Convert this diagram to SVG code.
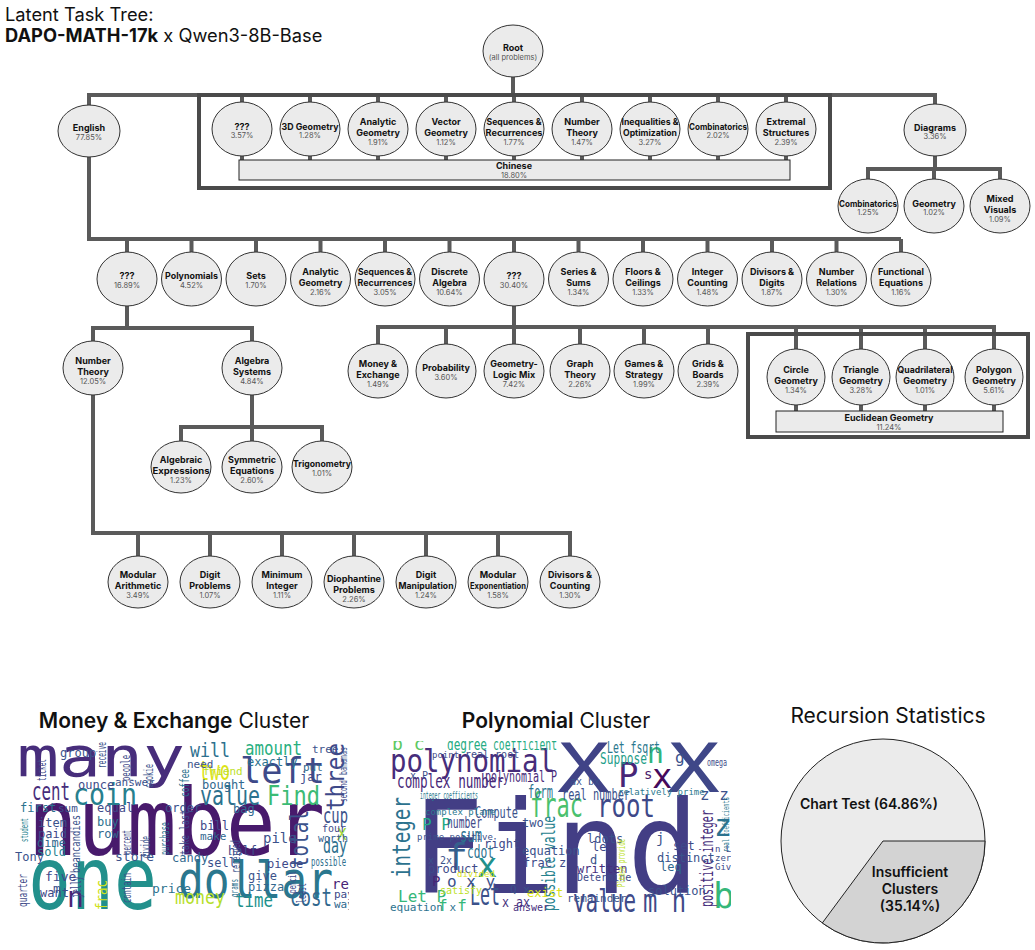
<svg xmlns="http://www.w3.org/2000/svg" width="1035" height="950" viewBox="0 0 1035 950">
<style>
.ttl{font-family:Inter,'Liberation Sans',sans-serif;fill:#111}
.node ellipse{fill:#ebebeb;stroke:#333;stroke-width:1}
.lb{font-family:Inter,'Liberation Sans',sans-serif;font-size:9px;font-weight:700;fill:#111;text-anchor:middle}
.pc{font-family:Inter,'Liberation Sans',sans-serif;font-size:7.5px;fill:#555;text-anchor:middle}
.con path{fill:none;stroke:#5a5a5a;stroke-width:4}
.box{fill:none;stroke:#4a4a4a;stroke-width:4}
.bar{fill:#ebebeb;stroke:#222;stroke-width:1}
.wc text{font-family:'DejaVu Sans Mono',monospace}
</style>
<defs>
<clipPath id="c1"><rect x="13" y="741" width="336" height="173"/></clipPath>
<clipPath id="c2"><rect x="385" y="741" width="346" height="173"/></clipPath>
</defs>
<rect width="1035" height="950" fill="#fff"/>

<g id="title" class="ttl">
<text x="5" y="21" font-size="18.3">Latent Task Tree:</text>
<text x="5" y="42" font-size="18.3"><tspan font-weight="700">DAPO-MATH-17k</tspan> x Qwen3-8B-Base</text>
</g>

<g id="connectors" class="con">
<path d="M513 77V95"/>
<path d="M89 130V95H935V130"/>
<path d="M242 95V102M310 95V102M378 95V102M446 95V102M514 95V102M582 95V102M650 95V102M718 95V102M786 95V102"/>
<path d="M242 156V160M310 156V160M378 156V160M446 156V160M514 156V160M582 156V160M650 156V160M718 156V160M786 156V160"/>
<path d="M935 156V169M868 179V169H1000V179M934 169V179"/>
<path d="M89 157V239H901"/>
<path d="M127 239V252M191.5 239V252M256 239V252M320.5 239V252M385 239V252M449.5 239V252M514 239V252M578.5 239V252M643 239V252M707.5 239V252M772 239V252M836.5 239V252M901 239V252"/>
<path d="M127 306V328M93 341V328H252V341"/>
<path d="M252 395V427M181 441V427H322V441M252 427V441"/>
<path d="M93 395V533H570V556M138 533V556M210 533V556M282 533V556M354 533V556M426 533V556M498 533V556"/>
<path d="M514 306V344M378 344V327H994V349M446 327V344M580 327V344M644 327V344M708 327V344M796 327V349M861 327V349M925 327V349"/>
<path d="M796 405V411M861 405V411M925 405V411M994 405V411"/>
</g>

<g id="chinese-box">
<rect class="box" x="199" y="95" width="631" height="93"/>
<rect class="bar" x="239" y="160" width="551" height="20"/>
<text class="lb" x="514" y="169">Chinese</text>
<text class="pc" x="514" y="177.5">18.80%</text>
</g>
<g id="euclidean-box">
<rect class="box" x="748" y="334" width="280" height="103"/>
<rect class="bar" x="776" y="411" width="227" height="21"/>
<text class="lb" x="889" y="421">Euclidean Geometry</text>
<text class="pc" x="889" y="430">11.24%</text>
</g>

<g id="n-root" class="node"><ellipse cx="513" cy="51" rx="30" ry="26"/><text class="lb" x="513" y="51" font-size="10">Root</text><text class="pc" x="513" y="59.5">(all problems)</text></g>

<g id="n-english" class="node"><ellipse cx="89" cy="131" rx="31" ry="26"/><text class="lb" x="89" y="131">English</text><text class="pc" x="89" y="139.5">77.85%</text></g>
<g id="n-zh-unk" class="node"><ellipse cx="242" cy="129" rx="30" ry="27"/><text class="lb" x="242" y="129.5">???</text><text class="pc" x="242" y="138">3.57%</text></g>
<g id="n-zh-3d" class="node"><ellipse cx="310" cy="129" rx="30" ry="27"/><text class="lb" x="310" y="129.5" textLength="57" lengthAdjust="spacingAndGlyphs">3D Geometry</text><text class="pc" x="310" y="138">1.28%</text></g>
<g id="n-zh-analytic" class="node"><ellipse cx="378" cy="129" rx="30" ry="27"/><text class="lb" x="378" y="125">Analytic</text><text class="lb" x="378" y="136">Geometry</text><text class="pc" x="378" y="144.5">1.91%</text></g>
<g id="n-zh-vector" class="node"><ellipse cx="446" cy="129" rx="30" ry="27"/><text class="lb" x="446" y="125">Vector</text><text class="lb" x="446" y="136">Geometry</text><text class="pc" x="446" y="144.5">1.12%</text></g>
<g id="n-zh-seq" class="node"><ellipse cx="514" cy="129" rx="30" ry="27"/><text class="lb" x="514" y="125" textLength="55" lengthAdjust="spacingAndGlyphs">Sequences &amp;</text><text class="lb" x="514" y="136" textLength="57" lengthAdjust="spacingAndGlyphs">Recurrences</text><text class="pc" x="514" y="144.5">1.77%</text></g>
<g id="n-zh-nt" class="node"><ellipse cx="582" cy="129" rx="30" ry="27"/><text class="lb" x="582" y="125">Number</text><text class="lb" x="582" y="136">Theory</text><text class="pc" x="582" y="144.5">1.47%</text></g>
<g id="n-zh-ineq" class="node"><ellipse cx="650" cy="129" rx="30" ry="27"/><text class="lb" x="650" y="125" textLength="57" lengthAdjust="spacingAndGlyphs">Inequalities &amp;</text><text class="lb" x="650" y="136" textLength="54" lengthAdjust="spacingAndGlyphs">Optimization</text><text class="pc" x="650" y="144.5">3.27%</text></g>
<g id="n-zh-comb" class="node"><ellipse cx="718" cy="129" rx="30" ry="27"/><text class="lb" x="718" y="129.5" textLength="58" lengthAdjust="spacingAndGlyphs">Combinatorics</text><text class="pc" x="718" y="138">2.02%</text></g>
<g id="n-zh-ext" class="node"><ellipse cx="786" cy="129" rx="30" ry="27"/><text class="lb" x="786" y="125">Extremal</text><text class="lb" x="786" y="136">Structures</text><text class="pc" x="786" y="144.5">2.39%</text></g>

<g id="n-diagrams" class="node"><ellipse cx="935" cy="130" rx="31" ry="26"/><text class="lb" x="935" y="130.5">Diagrams</text><text class="pc" x="935" y="139">3.36%</text></g>
<g id="n-dg-comb" class="node"><ellipse cx="868" cy="206" rx="30" ry="27"/><text class="lb" x="868" y="206.5" textLength="58" lengthAdjust="spacingAndGlyphs">Combinatorics</text><text class="pc" x="868" y="215">1.25%</text></g>
<g id="n-dg-geo" class="node"><ellipse cx="934" cy="206" rx="30" ry="27"/><text class="lb" x="934" y="206.5">Geometry</text><text class="pc" x="934" y="215">1.02%</text></g>
<g id="n-dg-mixed" class="node"><ellipse cx="1000" cy="206" rx="30" ry="27"/><text class="lb" x="1000" y="202">Mixed</text><text class="lb" x="1000" y="213">Visuals</text><text class="pc" x="1000" y="221.5">1.09%</text></g>

<g id="n-en-unk1" class="node"><ellipse cx="127" cy="279" rx="30" ry="27"/><text class="lb" x="127" y="279">???</text><text class="pc" x="127" y="287.5">16.89%</text></g>
<g id="n-en-poly" class="node"><ellipse cx="191.5" cy="279" rx="30" ry="27"/><text class="lb" x="191.5" y="279" textLength="53" lengthAdjust="spacingAndGlyphs">Polynomials</text><text class="pc" x="191.5" y="287.5">4.52%</text></g>
<g id="n-en-sets" class="node"><ellipse cx="256" cy="279" rx="30" ry="27"/><text class="lb" x="256" y="279">Sets</text><text class="pc" x="256" y="287.5">1.70%</text></g>
<g id="n-en-analytic" class="node"><ellipse cx="320.5" cy="279" rx="30" ry="27"/><text class="lb" x="320.5" y="275">Analytic</text><text class="lb" x="320.5" y="286">Geometry</text><text class="pc" x="320.5" y="294.5">2.16%</text></g>
<g id="n-en-seq" class="node"><ellipse cx="385" cy="279" rx="30" ry="27"/><text class="lb" x="385" y="275" textLength="54" lengthAdjust="spacingAndGlyphs">Sequences &amp;</text><text class="lb" x="385" y="286" textLength="55" lengthAdjust="spacingAndGlyphs">Recurrences</text><text class="pc" x="385" y="294.5">3.05%</text></g>
<g id="n-en-discrete" class="node"><ellipse cx="449.5" cy="279" rx="30" ry="27"/><text class="lb" x="449.5" y="275">Discrete</text><text class="lb" x="449.5" y="286">Algebra</text><text class="pc" x="449.5" y="294.5">10.64%</text></g>
<g id="n-en-unk2" class="node"><ellipse cx="514" cy="279" rx="30" ry="27"/><text class="lb" x="514" y="279">???</text><text class="pc" x="514" y="287.5">30.40%</text></g>
<g id="n-en-series" class="node"><ellipse cx="578.5" cy="279" rx="30" ry="27"/><text class="lb" x="578.5" y="275">Series &amp;</text><text class="lb" x="578.5" y="286">Sums</text><text class="pc" x="578.5" y="294.5">1.34%</text></g>
<g id="n-en-floors" class="node"><ellipse cx="643" cy="279" rx="30" ry="27"/><text class="lb" x="643" y="275">Floors &amp;</text><text class="lb" x="643" y="286">Ceilings</text><text class="pc" x="643" y="294.5">1.33%</text></g>
<g id="n-en-intcount" class="node"><ellipse cx="707.5" cy="279" rx="30" ry="27"/><text class="lb" x="707.5" y="275">Integer</text><text class="lb" x="707.5" y="286">Counting</text><text class="pc" x="707.5" y="294.5">1.48%</text></g>
<g id="n-en-divdig" class="node"><ellipse cx="772" cy="279" rx="30" ry="27"/><text class="lb" x="772" y="275">Divisors &amp;</text><text class="lb" x="772" y="286">Digits</text><text class="pc" x="772" y="294.5">1.87%</text></g>
<g id="n-en-numrel" class="node"><ellipse cx="836.5" cy="279" rx="30" ry="27"/><text class="lb" x="836.5" y="275">Number</text><text class="lb" x="836.5" y="286">Relations</text><text class="pc" x="836.5" y="294.5">1.30%</text></g>
<g id="n-en-func" class="node"><ellipse cx="901" cy="279" rx="30" ry="27"/><text class="lb" x="901" y="275">Functional</text><text class="lb" x="901" y="286">Equations</text><text class="pc" x="901" y="294.5">1.16%</text></g>

<g id="n-nt" class="node"><ellipse cx="93" cy="368" rx="30" ry="27"/><text class="lb" x="93" y="364">Number</text><text class="lb" x="93" y="375">Theory</text><text class="pc" x="93" y="383.5">12.05%</text></g>
<g id="n-algsys" class="node"><ellipse cx="252" cy="368" rx="30" ry="27"/><text class="lb" x="252" y="364">Algebra</text><text class="lb" x="252" y="375">Systems</text><text class="pc" x="252" y="383.5">4.84%</text></g>

<g id="n-money" class="node"><ellipse cx="378" cy="371" rx="30" ry="27"/><text class="lb" x="378" y="367">Money &amp;</text><text class="lb" x="378" y="378">Exchange</text><text class="pc" x="378" y="386.5">1.49%</text></g>
<g id="n-prob" class="node"><ellipse cx="446" cy="371" rx="30" ry="27"/><text class="lb" x="446" y="371">Probability</text><text class="pc" x="446" y="379.5">3.60%</text></g>
<g id="n-geologic" class="node"><ellipse cx="514" cy="371" rx="30" ry="27"/><text class="lb" x="514" y="367">Geometry-</text><text class="lb" x="514" y="378">Logic Mix</text><text class="pc" x="514" y="386.5">7.42%</text></g>
<g id="n-graph" class="node"><ellipse cx="580" cy="371" rx="30" ry="27"/><text class="lb" x="580" y="367" font-weight="500" fill="#444">Graph</text><text class="lb" x="580" y="378" font-weight="500" fill="#444">Theory</text><text class="pc" x="580" y="386.5">2.26%</text></g>
<g id="n-games" class="node"><ellipse cx="644" cy="371" rx="30" ry="27"/><text class="lb" x="644" y="367">Games &amp;</text><text class="lb" x="644" y="378">Strategy</text><text class="pc" x="644" y="386.5">1.99%</text></g>
<g id="n-grids" class="node"><ellipse cx="708" cy="371" rx="30" ry="27"/><text class="lb" x="708" y="367">Grids &amp;</text><text class="lb" x="708" y="378">Boards</text><text class="pc" x="708" y="386.5">2.39%</text></g>

<g id="n-circle" class="node"><ellipse cx="796" cy="377" rx="29" ry="28"/><text class="lb" x="796" y="373">Circle</text><text class="lb" x="796" y="384">Geometry</text><text class="pc" x="796" y="392.5">1.34%</text></g>
<g id="n-triangle" class="node"><ellipse cx="861" cy="377" rx="29" ry="28"/><text class="lb" x="861" y="373">Triangle</text><text class="lb" x="861" y="384">Geometry</text><text class="pc" x="861" y="392.5">3.28%</text></g>
<g id="n-quad" class="node"><ellipse cx="925" cy="377" rx="29" ry="28"/><text class="lb" x="925" y="373" textLength="55" lengthAdjust="spacingAndGlyphs">Quadrilateral</text><text class="lb" x="925" y="384">Geometry</text><text class="pc" x="925" y="392.5">1.01%</text></g>
<g id="n-polygon" class="node"><ellipse cx="994" cy="377" rx="29" ry="28"/><text class="lb" x="994" y="373">Polygon</text><text class="lb" x="994" y="384">Geometry</text><text class="pc" x="994" y="392.5">5.61%</text></g>

<g id="n-algexp" class="node"><ellipse cx="181" cy="467" rx="30" ry="26"/><text class="lb" x="181" y="463">Algebraic</text><text class="lb" x="181" y="474" textLength="57" lengthAdjust="spacingAndGlyphs">Expressions</text><text class="pc" x="181" y="482.5">1.23%</text></g>
<g id="n-symeq" class="node"><ellipse cx="252" cy="467" rx="30" ry="26"/><text class="lb" x="252" y="463">Symmetric</text><text class="lb" x="252" y="474">Equations</text><text class="pc" x="252" y="482.5">2.60%</text></g>
<g id="n-trig" class="node"><ellipse cx="322" cy="467" rx="30" ry="26"/><text class="lb" x="322" y="467" textLength="58" lengthAdjust="spacingAndGlyphs">Trigonometry</text><text class="pc" x="322" y="475.5">1.01%</text></g>

<g id="n-modar" class="node"><ellipse cx="138" cy="582" rx="30" ry="26"/><text class="lb" x="138" y="578">Modular</text><text class="lb" x="138" y="589">Arithmetic</text><text class="pc" x="138" y="597.5">3.49%</text></g>
<g id="n-digprob" class="node"><ellipse cx="210" cy="582" rx="30" ry="26"/><text class="lb" x="210" y="578">Digit</text><text class="lb" x="210" y="589">Problems</text><text class="pc" x="210" y="597.5">1.07%</text></g>
<g id="n-minint" class="node"><ellipse cx="282" cy="582" rx="30" ry="26"/><text class="lb" x="282" y="578">Minimum</text><text class="lb" x="282" y="589">Integer</text><text class="pc" x="282" y="597.5">1.11%</text></g>
<g id="n-dioph" class="node"><ellipse cx="354" cy="582" rx="30" ry="26"/><text class="lb" x="354" y="582" textLength="54" lengthAdjust="spacingAndGlyphs">Diophantine</text><text class="lb" x="354" y="593">Problems</text><text class="pc" x="354" y="601.5">2.26%</text></g>
<g id="n-digman" class="node"><ellipse cx="426" cy="582" rx="30" ry="26"/><text class="lb" x="426" y="578">Digit</text><text class="lb" x="426" y="589" textLength="55" lengthAdjust="spacingAndGlyphs">Manipulation</text><text class="pc" x="426" y="597.5">1.24%</text></g>
<g id="n-modexp" class="node"><ellipse cx="498" cy="582" rx="30" ry="26"/><text class="lb" x="498" y="578" font-size="7.5" font-weight="600">Modular</text><text class="lb" x="498" y="589" font-size="7.5" font-weight="600" textLength="56" lengthAdjust="spacingAndGlyphs">Exponentiation</text><text class="pc" x="498" y="597.5">1.58%</text></g>
<g id="n-divcount" class="node"><ellipse cx="570" cy="582" rx="30" ry="26"/><text class="lb" x="570" y="578">Divisors &amp;</text><text class="lb" x="570" y="589">Counting</text><text class="pc" x="570" y="597.5">1.30%</text></g>

<g id="wordcloud-money">
<text class="ttl" x="174" y="728" font-size="21" text-anchor="middle"><tspan font-weight="600">Money &amp; Exchange</tspan> Cluster</text>
<g class="wc" clip-path="url(#c1)">
<text x="17" y="776" font-size="55" textLength="168" lengthAdjust="spacingAndGlyphs" fill="#472d7b">many</text>
<text x="28" y="855" font-size="92" textLength="297" lengthAdjust="spacingAndGlyphs" fill="#481a6c">number</text>
<text x="28" y="909" font-size="88" textLength="129" lengthAdjust="spacingAndGlyphs" fill="#22908c">one</text>
<text x="178" y="898" font-size="52" textLength="155" lengthAdjust="spacingAndGlyphs" fill="#2a778e">dollar</text>
<text x="240" y="783" font-size="36" textLength="85" lengthAdjust="spacingAndGlyphs" fill="#3e4a89">left</text>
<text x="73" y="805" font-size="30" textLength="64" lengthAdjust="spacingAndGlyphs" fill="#27808e">coin</text>
<text x="200" y="805" font-size="26" textLength="60" lengthAdjust="spacingAndGlyphs" fill="#2c728e">value</text>
<text x="267" y="805" font-size="26" textLength="53" lengthAdjust="spacingAndGlyphs" fill="#3bbb75">Find</text>
<text x="199" y="780" font-size="26" textLength="31" lengthAdjust="spacingAndGlyphs" fill="#dde318">two</text>
<text x="190" y="757" font-size="20" textLength="40" lengthAdjust="spacingAndGlyphs" fill="#2d708e">will</text>
<text x="245" y="755" font-size="20" textLength="57" lengthAdjust="spacingAndGlyphs" fill="#29af7f">amount</text>
<text transform="translate(344,811) rotate(-90)" font-size="24" textLength="68" lengthAdjust="spacingAndGlyphs" fill="#3e4989">three</text>
<text x="32" y="800" font-size="24" textLength="38" lengthAdjust="spacingAndGlyphs" fill="#472d7b">cent</text>
<text transform="translate(308,868) rotate(-90)" font-size="24" textLength="58" lengthAdjust="spacingAndGlyphs" fill="#3b528b">total</text>
<text x="323" y="853" font-size="22" textLength="24" lengthAdjust="spacingAndGlyphs" fill="#2d708e">day</text>
<text x="323" y="823" font-size="22" textLength="25" lengthAdjust="spacingAndGlyphs" fill="#3b528b">cup</text>
<text x="290" y="906" font-size="24" textLength="42" lengthAdjust="spacingAndGlyphs" fill="#31688e">cost</text>
<text x="235" y="907" font-size="20" textLength="38" lengthAdjust="spacingAndGlyphs" fill="#21918c">time</text>
<text x="175" y="904" font-size="20" textLength="50" lengthAdjust="spacingAndGlyphs" fill="#b5de2b">money</text>
<text transform="translate(107,910) rotate(-90)" font-size="16" textLength="30" lengthAdjust="spacingAndGlyphs" fill="#d0e11c">frac</text>
<text x="67" y="907" font-size="28" fill="#482475">n</text>
<text x="337" y="840" font-size="16" fill="#a0da39">X</text>
<text x="60" y="757" font-size="12" fill="#3b528b">group</text>
<text x="247" y="766" font-size="12" fill="#2c728e">exactly</text>
<text x="187" y="768" font-size="11" fill="#3b528b">need</text>
<text x="203" y="775" font-size="11" fill="#bddf26">friend</text>
<text x="202" y="789" font-size="12" fill="#31688e">bought</text>
<text x="115" y="786" font-size="11" fill="#3b528b">answer</text>
<text x="78" y="789" font-size="12" fill="#3e4a89">ounce</text>
<text x="233" y="813" font-size="12" fill="#31688e">bag</text>
<text x="300" y="781" font-size="12" fill="#3e4a89">jar</text>
<text x="303" y="771" font-size="11" fill="#31688e">put</text>
<text x="312" y="753" font-size="11" fill="#3b528b">tree</text>
<text x="20" y="812" font-size="12" fill="#2c728e">first</text>
<text x="58" y="812" font-size="11" fill="#3b528b">sum</text>
<text x="97" y="812" font-size="12" fill="#3e4a89">equal</text>
<text x="165" y="812" font-size="12" fill="#3b528b">order</text>
<text x="38" y="827" font-size="12" fill="#3b528b">item</text>
<text x="97" y="826" font-size="12" fill="#2c728e">buy</text>
<text x="97" y="838" font-size="12" fill="#31688e">row</text>
<text x="38" y="838" font-size="12" fill="#3e4a89">paid</text>
<text x="37" y="847" font-size="12" fill="#31688e">dime</text>
<text x="37" y="856" font-size="12" fill="#26828e">sold</text>
<text x="200" y="830" font-size="12" fill="#3e4a89">bill</text>
<text x="200" y="840" font-size="11" fill="#31688e">make</text>
<text x="263" y="843" font-size="14" fill="#3b528b">pile</text>
<text x="322" y="832" font-size="10" fill="#3e4a89">four</text>
<text x="318" y="842" font-size="10" fill="#35608d">worth</text>
<text x="228" y="855" font-size="12" fill="#3e4a89">half</text>
<text x="115" y="861" font-size="13" fill="#3b528b">store</text>
<text x="172" y="862" font-size="12" fill="#31688e">candy</text>
<text x="207" y="867" font-size="12" fill="#3b528b">sell</text>
<text x="267" y="868" font-size="12" fill="#3e4a89">piece</text>
<text x="311" y="866" font-size="12" textLength="35" lengthAdjust="spacingAndGlyphs" fill="#2e6f8e">possible</text>
<text x="15" y="861" font-size="12" fill="#3b528b">Tony</text>
<text x="45" y="881" font-size="13" fill="#3e4a89">five</text>
<text x="248" y="880" font-size="12" fill="#3b528b">give</text>
<text x="332" y="889" font-size="14" fill="#482475">red</text>
<text x="248" y="891" font-size="12" fill="#31688e">pizza</text>
<text x="152" y="893" font-size="13" fill="#2c728e">price</text>
<text x="53" y="893" font-size="13" fill="#3b528b">m</text>
<text x="40" y="897" font-size="12" fill="#3e4a89">want</text>
<text x="334" y="898" font-size="11" fill="#3e4a89">pay</text>
<text x="334" y="908" font-size="11" fill="#31688e">way</text>
<text transform="translate(27,907) rotate(-90)" font-size="12" textLength="33" lengthAdjust="spacingAndGlyphs" fill="#3e4a89">quarter</text>
<text transform="translate(28,842) rotate(-90)" font-size="11" textLength="24" lengthAdjust="spacingAndGlyphs" fill="#26828e">student</text>
<text transform="translate(80,873) rotate(-90)" font-size="12" textLength="58" lengthAdjust="spacingAndGlyphs" fill="#3b528b">beancandies</text>
<text transform="translate(81,898) rotate(-90)" font-size="14" textLength="22" lengthAdjust="spacingAndGlyphs" fill="#3e4a89">jelly</text>
<text transform="translate(131,854) rotate(-90)" font-size="12" textLength="24" lengthAdjust="spacingAndGlyphs" fill="#3e4a89">percent</text>
<text transform="translate(150,858) rotate(-90)" font-size="12" textLength="22" lengthAdjust="spacingAndGlyphs" fill="#3b528b">divide</text>
<text transform="translate(169,855) rotate(-90)" font-size="12" textLength="33" lengthAdjust="spacingAndGlyphs" fill="#2c728e">purchase</text>
<text transform="translate(189,855) rotate(-90)" font-size="12" textLength="45" lengthAdjust="spacingAndGlyphs" fill="#3e4a89">take last</text>
<text transform="translate(189,797) rotate(-90)" font-size="13" textLength="28" lengthAdjust="spacingAndGlyphs" fill="#2c728e">coffee</text>
<text transform="translate(153,788) rotate(-90)" font-size="12" textLength="24" lengthAdjust="spacingAndGlyphs" fill="#3b528b">cookie</text>
<text transform="translate(130,781) rotate(-90)" font-size="12" textLength="26" lengthAdjust="spacingAndGlyphs" fill="#3e4a89">people</text>
<text transform="translate(106,768) rotate(-90)" font-size="12" textLength="26" lengthAdjust="spacingAndGlyphs" fill="#3b528b">receive</text>
<text transform="translate(46,781) rotate(-90)" font-size="12" textLength="22" lengthAdjust="spacingAndGlyphs" fill="#3e4a89">ticket</text>
<text transform="translate(240,873) rotate(-90)" font-size="12" textLength="33" lengthAdjust="spacingAndGlyphs" fill="#3b528b">received</text>
<text transform="translate(306,903) rotate(-90)" font-size="12" textLength="20" lengthAdjust="spacingAndGlyphs" fill="#3e4a89">least</text>
<text transform="translate(347,775) rotate(-90)" font-size="10" textLength="28" lengthAdjust="spacingAndGlyphs" fill="#3b528b">bananas</text>
<text transform="translate(347,802) rotate(-90)" font-size="10" textLength="22" lengthAdjust="spacingAndGlyphs" fill="#3e4a89">second</text>
<text transform="translate(131,903) rotate(-90)" font-size="12" textLength="30" lengthAdjust="spacingAndGlyphs" fill="#3b528b">contain</text>
<text transform="translate(296,893) rotate(-90)" font-size="11" textLength="22" lengthAdjust="spacingAndGlyphs" fill="#3e4a89">pencil</text>
<text transform="translate(238,897) rotate(-90)" font-size="10" textLength="18" lengthAdjust="spacingAndGlyphs" fill="#2c728e">grams</text>
</g>
</g>

<g id="wordcloud-polynomial">
<text class="ttl" x="556" y="728" font-size="21" text-anchor="middle"><tspan font-weight="600">Polynomial</tspan> Cluster</text>
<g class="wc" clip-path="url(#c2)">
<text x="412" y="893" font-size="128" textLength="287" lengthAdjust="spacingAndGlyphs" fill="#433e85">Find</text>
<text x="557" y="792" font-size="68" textLength="53" lengthAdjust="spacingAndGlyphs" fill="#404387">X</text>
<text x="667" y="792" font-size="68" textLength="53" lengthAdjust="spacingAndGlyphs" fill="#3f4788">X</text>
<text x="390" y="772" font-size="32" textLength="165" lengthAdjust="spacingAndGlyphs" fill="#472d7b">polynomial</text>
<text x="618" y="787" font-size="34" fill="#482677">P</text>
<text x="652" y="788" font-size="34" fill="#450a5c">x</text>
<text x="644" y="779" font-size="14" fill="#481769">s</text>
<text x="647" y="763" font-size="28" fill="#2fb47c">n</text>
<text x="675" y="763" font-size="16" fill="#3b528b">g</text>
<text x="707" y="766" font-size="11" textLength="20" lengthAdjust="spacingAndGlyphs" fill="#3e4a89">omega</text>
<text x="597" y="817" font-size="32" textLength="58" lengthAdjust="spacingAndGlyphs" fill="#3e4989">root</text>
<text x="530" y="817" font-size="34" textLength="53" lengthAdjust="spacingAndGlyphs" fill="#4ac16d">frac</text>
<text transform="translate(410,878) rotate(-90)" font-size="24" textLength="81" lengthAdjust="spacingAndGlyphs" fill="#2c728e">integer</text>
<text x="573" y="912" font-size="32" textLength="63" lengthAdjust="spacingAndGlyphs" fill="#3e4a89">value</text>
<text x="643" y="912" font-size="32" textLength="43" lengthAdjust="spacingAndGlyphs" fill="#3e4a89">m n</text>
<text x="470" y="905" font-size="30" textLength="30" lengthAdjust="spacingAndGlyphs" fill="#3b528b">Let</text>
<text x="502" y="907" font-size="14" textLength="28" lengthAdjust="spacingAndGlyphs" fill="#46307e">x ax</text>
<text x="713" y="908" font-size="36" fill="#35b779">b</text>
<text x="714" y="836" font-size="30" fill="#2c728e">z</text>
<text x="700" y="800" font-size="16" fill="#3b528b">z z</text>
<text x="445" y="870" font-size="38" fill="#35608d">f</text>
<text x="477" y="877" font-size="34" fill="#21918c">x</text>
<text x="397" y="788" font-size="19" textLength="107" lengthAdjust="spacingAndGlyphs" fill="#482878">complex number</text>
<text x="447" y="750" font-size="16" textLength="40" lengthAdjust="spacingAndGlyphs" fill="#25ab82">degree</text>
<text x="493" y="750" font-size="16" textLength="64" lengthAdjust="spacingAndGlyphs" fill="#25ab82">coefficient</text>
<text x="392" y="750" font-size="18" fill="#5ec962">b c</text>
<text x="607" y="753" font-size="16" textLength="53" lengthAdjust="spacingAndGlyphs" fill="#2a788e">Let fsqrt</text>
<text x="600" y="764" font-size="16" textLength="47" lengthAdjust="spacingAndGlyphs" fill="#1f9e89">Suppose</text>
<text x="485" y="782" font-size="16" textLength="72" lengthAdjust="spacingAndGlyphs" fill="#472c7a">polynomial P</text>
<text x="528" y="798" font-size="18" textLength="25" lengthAdjust="spacingAndGlyphs" fill="#2c728e">form</text>
<text x="562" y="800" font-size="16" textLength="68" lengthAdjust="spacingAndGlyphs" fill="#3b528b">real number</text>
<text x="420" y="799" font-size="10" textLength="58" lengthAdjust="spacingAndGlyphs" fill="#2a788e">integer coefficients</text>
<text x="475" y="818" font-size="16" textLength="43" lengthAdjust="spacingAndGlyphs" fill="#3b528b">Compute</text>
<text x="425" y="815" font-size="9" fill="#2a788e">complex plane</text>
<text x="422" y="830" font-size="16" fill="#22a884">P P</text>
<text x="447" y="828" font-size="16" textLength="35" lengthAdjust="spacingAndGlyphs" fill="#3e4989">number</text>
<text x="460" y="842" font-size="20" textLength="22" lengthAdjust="spacingAndGlyphs" fill="#2c728e">sum</text>
<text x="417" y="840" font-size="9" fill="#3b528b">prime positive</text>
<text x="484" y="848" font-size="12" fill="#3e4989">right</text>
<text x="522" y="827" font-size="12" fill="#3b528b">two</text>
<text x="467" y="858" font-size="18" textLength="27" lengthAdjust="spacingAndGlyphs" fill="#2c728e">cdot</text>
<text transform="translate(555,911) rotate(-90)" font-size="18" textLength="95" lengthAdjust="spacingAndGlyphs" fill="#26828e">possible value</text>
<text transform="translate(713,907) rotate(-90)" font-size="18" textLength="97" lengthAdjust="spacingAndGlyphs" fill="#472d7b">positive integer</text>
<text x="428" y="873" font-size="12" fill="#3e4a89">product</text>
<text x="428" y="864" font-size="10" fill="#3b528b">x 2x</text>
<text x="432" y="886" font-size="14" fill="#482475">P</text>
<text x="447" y="887" font-size="16" fill="#3b528b">o x y</text>
<text x="398" y="902" font-size="16" fill="#35b779">Let P</text>
<text x="390" y="911" font-size="11" fill="#2c728e">equation x</text>
<text x="438" y="911" font-size="16" fill="#35b779">f f</text>
<text x="457" y="877" font-size="9" fill="#d8e219">divided</text>
<text x="440" y="894" font-size="10" fill="#bddf26">satisfy</text>
<text x="527" y="897" font-size="12" fill="#d8e219">exist</text>
<text x="510" y="893" font-size="11" fill="#3b528b">Q x</text>
<text x="513" y="911" font-size="10" fill="#46307e">answer</text>
<text x="567" y="902" font-size="11" fill="#3b528b">remainder</text>
<text x="648" y="895" font-size="12" fill="#3b528b">solution</text>
<text x="577" y="873" font-size="12" fill="#46307e">written</text>
<text x="577" y="881" font-size="10" fill="#3e4a89">Determine</text>
<text x="522" y="855" font-size="12" fill="#3b528b">equation</text>
<text x="523" y="867" font-size="12" fill="#3e4a89">frac z</text>
<text x="587" y="843" font-size="12" fill="#3b528b">ldots</text>
<text x="592" y="851" font-size="12" fill="#3e4a89">le</text>
<text x="590" y="864" font-size="12" fill="#3b528b">d</text>
<text x="657" y="862" font-size="12" fill="#3b528b">distinct</text>
<text x="660" y="871" font-size="12" fill="#31688e">leq</text>
<text x="673" y="850" font-size="12" fill="#3e4a89">set</text>
<text x="656" y="843" font-size="14" fill="#3b528b">j</text>
<text transform="translate(625,887) rotate(-90)" font-size="11" textLength="48" lengthAdjust="spacingAndGlyphs" fill="#bddf26">Please provide</text>
<text x="715" y="852" font-size="9" fill="#3e4a89">n Let</text>
<text x="715" y="861" font-size="9" fill="#3b528b">zero</text>
<text x="715" y="870" font-size="9" fill="#3e4a89">Given</text>
<text transform="translate(729,852) rotate(-90)" font-size="9" textLength="55" lengthAdjust="spacingAndGlyphs" fill="#2a788e">real coefficients</text>
<text x="570" y="785" font-size="10" fill="#3b528b">ax bx</text>
<text x="618" y="795" font-size="9" fill="#2a788e">relatively prime</text>
<text x="432" y="758" font-size="9" fill="#3e4a89">point</text>
<text x="465" y="758" font-size="10" fill="#3e4a89">real root</text>
<text x="410" y="779" font-size="10" fill="#3b528b">x P</text>
</g>
</g>

<g id="pie">
<text class="ttl" x="888" y="723" font-size="21" text-anchor="middle">Recursion Statistics</text>
<circle cx="883" cy="841" r="102" fill="#ebebeb" stroke="#222" stroke-width="1"/>
<path d="M883 841H985A102 102 0 0 1 822.3 923Z" fill="#d3d3d3" stroke="#222" stroke-width="1"/>
<text class="ttl" x="869" y="809" font-size="14" font-weight="600" text-anchor="middle">Chart Test (64.86%)</text>
<text class="ttl" x="910" y="877" font-size="14" font-weight="600" text-anchor="middle">Insufficient</text>
<text class="ttl" x="910" y="894" font-size="14" font-weight="600" text-anchor="middle">Clusters</text>
<text class="ttl" x="910" y="911" font-size="14" font-weight="600" text-anchor="middle">(35.14%)</text>
</g>
</svg>
